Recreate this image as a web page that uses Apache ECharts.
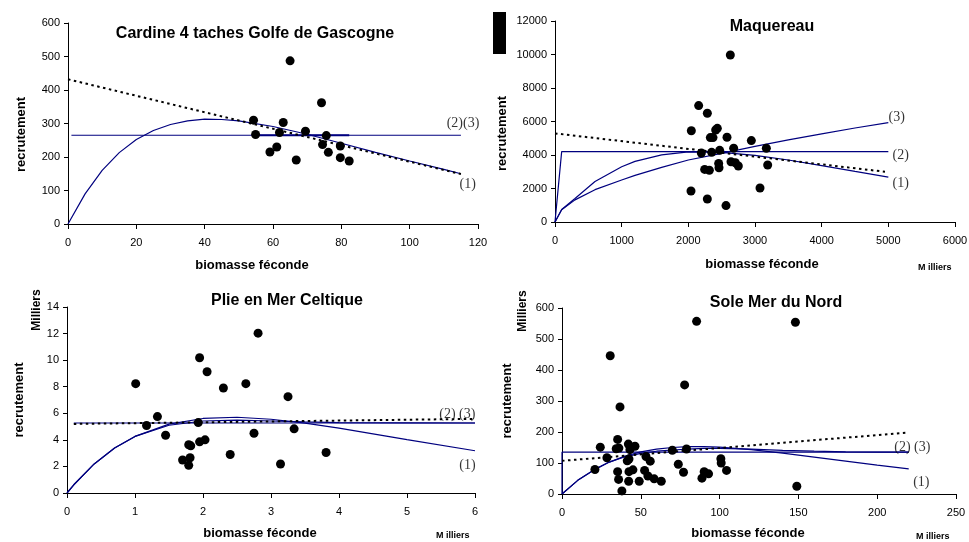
<!DOCTYPE html>
<html>
<head>
<meta charset="utf-8">
<script src="https://cdn.jsdelivr.net/npm/echarts@6/dist/echarts.min.js"></script>
<style>
html,body{margin:0;padding:0;background:#fff;}
#chart{width:969px;height:542px;}
</style>
</head>
<body>
<div id="chart"></div>
<script>
// ---------- Cardine 4 taches Golfe de Gascogne ----------
const cardineS = [54.3,54.9,65.0,59.1,61.1,61.9,63.0,66.8,69.5,74.2,74.5,75.6,76.2,79.7,79.7,82.3];
const cardineR = [310,267,487,215,230,273,303,191,277,362,237,264,214,233,198,188];
const cardineCurveS = [0,5,10,15,20,25,30,35,40,45,50,60,70,80,90,100,110,115];
const cardineCurve1 = [0,90,160,213,252,279,297,308,313,312,308,291,268,241,214,188,163,150];
const cardineFlatS = [1,115];
const cardineFlat = [265,265];
const cardineStickS = [54.3,82.3];
const cardineStick = [265,265];
const cardineTrendS = [0,115];
const cardineTrend = [432,149];

// ---------- Maquereau ----------
const maqS = [2045,2155,2285,2630,2040,2195,2245,2315,2285,2330,2370,2350,2410,2435,2470,2455,2460,2580,2565,2680,2640,2705,2750,2945,3075,3170,3190];
const maqR = [5450,6950,6490,9970,1850,4120,3140,3090,1370,5040,5040,4160,5490,5590,4280,3500,3240,5060,980,4400,3600,3540,3340,4860,2030,4400,3400];
const maqCurveS = [0,100,300,600,1000,1200,1600,2000,2500,3000,3500,4000,4500,5000];
const maqCurve1 = [0,750,1400,2420,3300,3620,4010,4190,4160,3980,3700,3370,3020,2680];
const maqCurve3 = [0,730,1320,1930,2510,2780,3260,3700,4100,4510,4900,5260,5610,5930];
const maqFlatS = [0,100,5000];
const maqFlat = [0,4200,4200];
const maqTrendS = [0,4950];
const maqTrend = [5290,3000];

// ---------- Plie en Mer Celtique (Milliers) ----------
const plieS = [1.01,1.17,1.33,1.45,1.70,1.79,1.82,1.81,1.79,1.93,1.95,1.95,2.03,2.06,2.30,2.40,2.63,2.75,2.81,3.14,3.25,3.34,3.81];
const plieR = [8.23,5.08,5.75,4.35,2.48,3.63,3.55,2.65,2.08,5.30,10.18,3.85,4.00,9.13,7.90,2.90,8.23,4.50,12.03,2.18,7.25,4.83,3.05];
const plieCurveS = [0,0.1,0.4,0.7,1,1.5,2,2.5,3,3.5,4,5,6];
const plieCurve1 = [0,0.62,2.19,3.38,4.26,5.18,5.61,5.70,5.55,5.26,4.88,4.02,3.18];
const plieCurve3 = [0,0.62,2.19,3.38,4.26,5.10,5.42,5.48,5.42,5.35,5.30,5.28,5.27];
const plieFlatS = [0.1,6];
const plieFlat = [5.27,5.27];
const plieTrendS = [0.1,6];
const plieTrend = [5.2,5.58];

// ---------- Sole Mer du Nord (Milliers) ----------
const soleS = [20.9,24.3,28.5,30.6,35.3,34.4,36.1,35.3,35.9,36.8,38.0,41.4,42.1,42.5,43.1,46.3,42.3,42.5,45.0,49.0,52.4,53.3,54.5,56.0,58.5,63.0,70.0,73.8,77.1,77.8,79.0,85.4,88.8,90.2,93.0,100.8,101.0,104.4,148.1,149.0];
const soleR = [79,151,117,446,176,146,148,72,47,281,10,107,161,113,143,154,41,72,78,41,76,121,58,106,49,41,141,96,70,352,145,557,51,72,65,114,100,76,554,25];
const soleCurveS = [0,10,20,30,40,50,60,70,80,90,100,120,140,160,180,200,220];
const soleCurve1 = [0,44,77,103,122,136,145,150,153,153,151,143,132,119,106,93,81];
const soleCurve3 = [0,44,77,103,120,131,138,142,145,147,147,145,141,138,136,135,135];
const soleFlatS = [0,0,220];
const soleFlat = [0,135,135];
const soleTrendS = [0,219];
const soleTrend = [107,198];

// ---------- Tick settings ----------
const axesX = [{max:120, interval:20},{max:6000, interval:1000},{max:6, interval:1},{max:250, interval:50}];
const axesY = [{max:600, interval:100},{max:12000, interval:2000},{max:14, interval:2},{max:600, interval:100}];

const titles = ['Cardine 4 taches Golfe de Gascogne','Maquereau','Plie en Mer Celtique','Sole Mer du Nord'];

function pts(xs, ys){ return xs.map((x,i)=>[x, ys[i]]); }

const BLUE = '#00007f';
const FONT = 'Liberation Sans, Arial, sans-serif';
const SERIF = 'Liberation Serif, Times New Roman, serif';

const grids = [
  {left:68, top:23, width:410, height:201},
  {left:555, top:21, width:400, height:201},
  {left:67, top:307, width:408, height:186},
  {left:562, top:308, width:394, height:186}
];
const yNameGap = [40, 46, 41, 48];
const yNamePad = [[0,22,0,0],[0,24,0,0],[0,0,0,0],[0,0,0,0]];
const xNameGap = [35, 36, 34, 33];
const xNamePad = [[0,42,0,0],[0,0,0,14],[0,22,0,0],[0,22,0,0]];
const titlePos = [{x:250,y:21},{x:767,y:14},{x:282,y:288},{x:771,y:290}];

const plain = v => String(v);

const xAxis = axesX.map((a,i)=>({
  gridIndex:i, type:'value', min:0, max:a.max, interval:a.interval,
  name:'biomasse féconde', nameLocation:'middle', nameGap:xNameGap[i],
  nameTextStyle:{fontFamily:FONT, fontWeight:'bold', fontSize:13, color:'#000', padding:xNamePad[i]},
  axisLine:{show:true, onZero:false, lineStyle:{color:'#000', width:1}},
  axisTick:{show:true, inside:false, length:5, lineStyle:{color:'#000'}},
  axisLabel:{fontFamily:FONT, fontSize:11, color:'#000', margin:13, formatter:plain},
  splitLine:{show:false}
}));
const yAxis = axesY.map((a,i)=>({
  gridIndex:i, type:'value', min:0, max:a.max, interval:a.interval,
  name:'recrutement', nameLocation:'middle', nameGap:yNameGap[i], nameRotate:90,
  nameTextStyle:{fontFamily:FONT, fontWeight:'bold', fontSize:13, color:'#000', padding:yNamePad[i]},
  axisLine:{show:true, onZero:false, lineStyle:{color:'#000', width:1}},
  axisTick:{show:true, inside:false, length:4, lineStyle:{color:'#000'}},
  axisLabel:{fontFamily:FONT, fontSize:11, color:'#000', margin:8, formatter:plain},
  splitLine:{show:false}
}));

function scatter(i, xs, ys){
  return {type:'scatter', xAxisIndex:i, yAxisIndex:i, data:pts(xs,ys), symbol:'circle', symbolSize:9,
    itemStyle:{color:'#000', opacity:1}, z:5, silent:true};
}
function line(i, xs, ys, opts){
  opts = opts || {};
  return {type:'line', xAxisIndex:i, yAxisIndex:i, data:pts(xs,ys), symbol:'none', smooth:false,
    lineStyle:{color:opts.color||BLUE, width:opts.width||1.2, type:opts.type||'solid'}, z:opts.z||3, silent:true, animation:false};
}
function trend(i, xs, ys){
  return line(i, xs, ys, {color:'#000', width:2, type:[2.5,3.5], z:4});
}
function note(i, x, y, text){
  return {type:'scatter', xAxisIndex:i, yAxisIndex:i, data:[[x,y]], symbolSize:0, silent:true, z:6,
    itemStyle:{color:'rgba(0,0,0,0)'},
    label:{show:true, position:'inside', formatter:text, fontFamily:SERIF, fontSize:14, color:'#000'}};
}

const series = [
  // Panel 1
  line(0, cardineCurveS, cardineCurve1),
  line(0, cardineFlatS, cardineFlat),
  line(0, cardineStickS, cardineStick, {width:2.2}),
  trend(0, cardineTrendS, cardineTrend),
  scatter(0, cardineS, cardineR),
  note(0, 115.6, 301, '(2)(3)'),
  note(0, 117, 119, '(1)'),
  // Panel 2
  line(1, maqCurveS, maqCurve1),
  line(1, maqCurveS, maqCurve3),
  line(1, maqFlatS, maqFlat),
  trend(1, maqTrendS, maqTrend),
  scatter(1, maqS, maqR),
  note(1, 5125, 6270, '(3)'),
  note(1, 5185, 4000, '(2)'),
  note(1, 5185, 2330, '(1)'),
  // Panel 3
  line(2, plieCurveS, plieCurve1),
  line(2, plieCurveS, plieCurve3),
  line(2, plieFlatS, plieFlat),
  trend(2, plieTrendS, plieTrend),
  scatter(2, plieS, plieR),
  note(2, 5.74, 5.95, '(2) (3)'),
  note(2, 5.89, 2.12, '(1)'),
  // Panel 4
  line(3, soleCurveS, soleCurve1),
  line(3, soleCurveS, soleCurve3),
  line(3, soleFlatS, soleFlat),
  trend(3, soleTrendS, soleTrend),
  scatter(3, soleS, soleR),
  note(3, 222.3, 152, '(2) (3)'),
  note(3, 228, 38, '(1)')
];

const chart = echarts.init(document.getElementById('chart'), null, {renderer:'canvas'});
chart.setOption({
  backgroundColor:'#fff',
  animation:false,
  title: titles.map((t,i)=>({
    text:t, left:titlePos[i].x, top:titlePos[i].y, textAlign:'center',
    textStyle:{fontFamily:FONT, fontWeight:'bold', fontSize:16, color:'#000'}
  })),
  grid: grids.map(g=>Object.assign({outerBoundsMode:'none', containLabel:false}, g)),
  xAxis: xAxis,
  yAxis: yAxis,
  series: series,
  graphic: [
    {type:'rect', left:493, top:12, shape:{width:13, height:42}, style:{fill:'#000'}},
    {type:'text', left:918, top:263, style:{text:'M illiers', font:'bold 9px '+FONT, fill:'#000'}},
    {type:'text', left:436, top:531, style:{text:'M illiers', font:'bold 9px '+FONT, fill:'#000'}},
    {type:'text', left:916, top:532, style:{text:'M illiers', font:'bold 9px '+FONT, fill:'#000'}},
    {type:'text', x:37, y:310, rotation:Math.PI/2, style:{text:'Milliers', font:'bold 12px '+FONT, fill:'#000', align:'center', verticalAlign:'middle'}},
    {type:'text', x:523, y:311, rotation:Math.PI/2, style:{text:'Milliers', font:'bold 12px '+FONT, fill:'#000', align:'center', verticalAlign:'middle'}}
  ]
});
</script>
</body>
</html>
